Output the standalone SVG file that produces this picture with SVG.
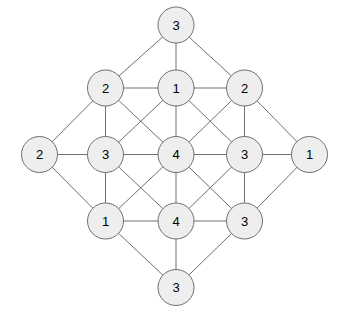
<svg xmlns="http://www.w3.org/2000/svg" width="351" height="324" viewBox="0 0 351 324">
<style>
.n circle{fill:#eeeeee;stroke:#707070;stroke-width:1}
.n text{font-family:"Liberation Sans",Arial,sans-serif;font-size:13px;fill:#000;text-anchor:middle;dominant-baseline:central}
.e line{stroke:#707070;stroke-width:1}
</style>
<rect width="351" height="324" fill="#fff"/>
<g id="edges" class="e">
<line x1="176" y1="25" x2="105.5" y2="88"/>
<line x1="176" y1="25" x2="176" y2="88"/>
<line x1="176" y1="25" x2="244.5" y2="88"/>
<line x1="105.5" y1="88" x2="176" y2="88"/>
<line x1="176" y1="88" x2="244.5" y2="88"/>
<line x1="105.5" y1="88" x2="39.5" y2="154.5"/>
<line x1="105.5" y1="88" x2="105.5" y2="154.5"/>
<line x1="105.5" y1="88" x2="176" y2="154.5"/>
<line x1="176" y1="88" x2="105.5" y2="154.5"/>
<line x1="176" y1="88" x2="176" y2="154.5"/>
<line x1="176" y1="88" x2="244.5" y2="154.5"/>
<line x1="244.5" y1="88" x2="176" y2="154.5"/>
<line x1="244.5" y1="88" x2="244.5" y2="154.5"/>
<line x1="244.5" y1="88" x2="309.5" y2="154.5"/>
<line x1="39.5" y1="154.5" x2="309.5" y2="154.5"/>
<line x1="39.5" y1="154.5" x2="105.5" y2="221"/>
<line x1="105.5" y1="154.5" x2="105.5" y2="221"/>
<line x1="105.5" y1="154.5" x2="176" y2="221"/>
<line x1="176" y1="154.5" x2="105.5" y2="221"/>
<line x1="176" y1="154.5" x2="176" y2="221"/>
<line x1="176" y1="154.5" x2="244.5" y2="221"/>
<line x1="244.5" y1="154.5" x2="176" y2="221"/>
<line x1="244.5" y1="154.5" x2="244.5" y2="221"/>
<line x1="309.5" y1="154.5" x2="244.5" y2="221"/>
<line x1="105.5" y1="221" x2="244.5" y2="221"/>
<line x1="105.5" y1="221" x2="176" y2="287.5"/>
<line x1="176" y1="221" x2="176" y2="287.5"/>
<line x1="244.5" y1="221" x2="176" y2="287.5"/>
</g>
<g id="n1" class="n"><circle cx="176" cy="25" r="18"/><text x="176" y="25">3</text></g>
<g id="n2" class="n"><circle cx="105.5" cy="88" r="18"/><text x="105.5" y="88">2</text></g>
<g id="n3" class="n"><circle cx="176" cy="88" r="18"/><text x="176" y="88">1</text></g>
<g id="n4" class="n"><circle cx="244.5" cy="88" r="18"/><text x="244.5" y="88">2</text></g>
<g id="n5" class="n"><circle cx="39.5" cy="154.5" r="18"/><text x="39.5" y="154.5">2</text></g>
<g id="n6" class="n"><circle cx="105.5" cy="154.5" r="18"/><text x="105.5" y="154.5">3</text></g>
<g id="n7" class="n"><circle cx="176" cy="154.5" r="18"/><text x="176" y="154.5">4</text></g>
<g id="n8" class="n"><circle cx="244.5" cy="154.5" r="18"/><text x="244.5" y="154.5">3</text></g>
<g id="n9" class="n"><circle cx="309.5" cy="154.5" r="18"/><text x="309.5" y="154.5">1</text></g>
<g id="n10" class="n"><circle cx="105.5" cy="221" r="18"/><text x="105.5" y="221">1</text></g>
<g id="n11" class="n"><circle cx="176" cy="221" r="18"/><text x="176" y="221">4</text></g>
<g id="n12" class="n"><circle cx="244.5" cy="221" r="18"/><text x="244.5" y="221">3</text></g>
<g id="n13" class="n"><circle cx="176" cy="287.5" r="18"/><text x="176" y="287.5">3</text></g>
</svg>
